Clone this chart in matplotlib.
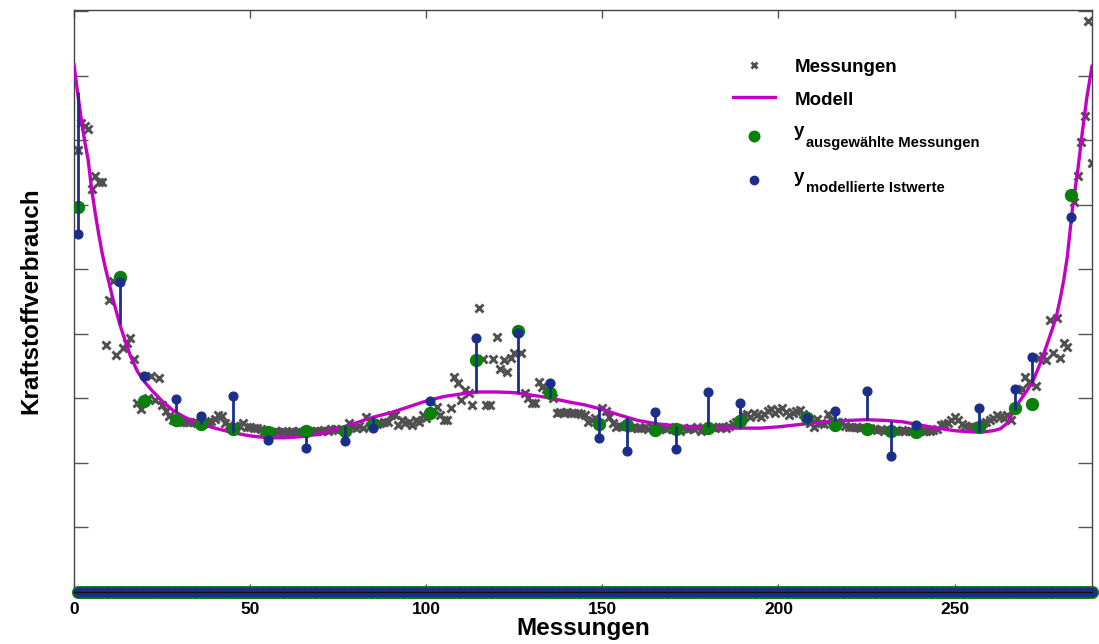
import numpy as np
import matplotlib
matplotlib.use('Agg')
import matplotlib.pyplot as plt
from matplotlib.lines import Line2D

plt.rcParams['font.family'] = ['Liberation Sans', 'DejaVu Sans']

# ---------------- data ----------------
messungen = [
    6.85, 7.27, 7.22, 7.17, 6.25, 6.45, 6.35, 6.35, 3.83, 4.52,
    4.82, 3.67, 4.88, 3.78, 3.86, 3.94, 3.61, 2.93, 2.84, 2.96,
    3.00, 3.35, 2.97, 3.31, 2.90, 2.80, 2.72, 2.67, 2.67, 2.64,
    2.64, 2.63, 2.64, 2.63, 2.62, 2.60, 2.62, 2.63, 2.65, 2.68,
    2.74, 2.73, 2.62, 2.59, 2.53, 2.58, 2.58, 2.62, 2.56, 2.55,
    2.54, 2.54, 2.53, 2.50, 2.48, 2.48, 2.49, 2.48, 2.49, 2.48,
    2.48, 2.49, 2.48, 2.49, 2.48, 2.50, 2.49, 2.50, 2.49, 2.50,
    2.51, 2.50, 2.52, 2.53, 2.51, 2.52, 2.50, 2.62, 2.55, 2.54,
    2.57, 2.54, 2.71, 2.58, 2.60, 2.60, 2.62, 2.64, 2.63, 2.74,
    2.74, 2.59, 2.67, 2.62, 2.64, 2.59, 2.66, 2.64, 2.74, 2.70,
    2.78, 2.80, 2.87, 2.74, 2.67, 2.67, 2.85, 3.33, 3.24, 2.98,
    3.13, 3.09, 2.90, 3.60, 4.40, 3.61, 2.90, 2.90, 3.61, 3.95,
    3.46, 3.60, 3.41, 3.63, 3.71, 4.05, 3.71, 3.08, 3.00, 2.93,
    2.93, 3.26, 3.18, 3.15, 3.09, 3.00, 2.78, 2.79, 2.78, 2.79,
    2.78, 2.77, 2.78, 2.76, 2.74, 2.64, 2.66, 2.70, 2.60, 2.85,
    2.80, 2.71, 2.62, 2.56, 2.57, 2.58, 2.59, 2.54, 2.55, 2.54,
    2.54, 2.55, 2.53, 2.55, 2.51, 2.53, 2.54, 2.52, 2.55, 2.53,
    2.53, 2.50, 2.54, 2.52, 2.54, 2.53, 2.55, 2.50, 2.52, 2.54,
    2.55, 2.54, 2.55, 2.56, 2.54, 2.57, 2.60, 2.64, 2.65, 2.74,
    2.76, 2.71, 2.78, 2.74, 2.71, 2.76, 2.80, 2.83, 2.78, 2.82,
    2.85, 2.79, 2.74, 2.77, 2.80, 2.82, 2.76, 2.70, 2.62, 2.56,
    2.68, 2.62, 2.60, 2.76, 2.66, 2.59, 2.64, 2.64, 2.58, 2.56,
    2.56, 2.55, 2.54, 2.55, 2.53, 2.54, 2.53, 2.51, 2.52, 2.50,
    2.51, 2.50, 2.50, 2.50, 2.51, 2.50, 2.50, 2.49, 2.48, 2.50,
    2.49, 2.50, 2.50, 2.51, 2.52, 2.59, 2.60, 2.62, 2.67, 2.71,
    2.66, 2.60, 2.57, 2.56, 2.58, 2.56, 2.56, 2.62, 2.64, 2.67,
    2.70, 2.74, 2.71, 2.70, 2.74, 2.67, 2.85, 3.13, 3.15, 3.33,
    3.26, 2.91, 3.20, 3.63, 3.66, 3.60, 4.22, 3.71, 4.25, 3.63,
    3.86, 3.80, 6.16, 6.05, 6.45, 6.97, 7.38, 8.85, 6.65,
]

sel_idx = [1, 13, 20, 29, 36, 45, 55, 66, 77, 85, 101, 114, 126, 135, 149,
           157, 165, 171, 180, 189, 208, 216, 225, 232, 239, 257, 267, 272, 283]
sel_green = [5.97, 4.88, 2.96, 2.67, 2.60, 2.53, 2.48, 2.50, 2.50, 2.60, 2.78,
             3.60, 4.05, 3.09, 2.60, 2.59, 2.51, 2.53, 2.54, 2.65, 2.70, 2.59,
             2.53, 2.50, 2.48, 2.56, 2.85, 2.91, 6.16]
sel_blue = [5.55, 4.81, 3.35, 2.99, 2.73, 3.04, 2.36, 2.23, 2.34, 2.54, 2.96,
            3.94, 4.02, 3.24, 2.39, 2.19, 2.79, 2.22, 3.10, 2.93, 2.70, 2.81,
            3.12, 2.11, 2.59, 2.85, 3.15, 3.64, 5.81]

model_x = [0, 1, 2, 3, 4, 5, 6, 7, 8, 9, 10, 11, 12, 13, 14, 16, 18, 20, 22,
           25, 28, 31, 35, 40, 45, 50, 55, 60, 65, 70, 75, 80, 85, 90, 95,
           100, 105, 110, 115, 120, 125, 130, 135, 140, 145, 150, 155, 160,
           165, 170, 175, 180, 185, 190, 195, 200, 205, 210, 215, 220, 225,
           230, 235, 240, 245, 250, 255, 258, 261, 263, 265, 266.5, 268, 270,
           272, 274, 276, 278, 279, 280, 281, 282, 283.5, 285, 286.2, 287.5,
           289]
model_y = [8.17, 7.75, 7.35, 7.00, 6.70, 6.25, 5.88, 5.55, 5.25, 5.00, 4.78,
           4.55, 4.35, 4.15, 3.98, 3.66, 3.42, 3.26, 3.13, 2.96, 2.82, 2.72,
           2.62, 2.54, 2.47, 2.42, 2.39, 2.39, 2.41, 2.45, 2.53, 2.62, 2.71,
           2.78, 2.87, 2.96, 3.03, 3.07, 3.10, 3.10, 3.09, 3.05, 3.01, 2.95,
           2.90, 2.83, 2.74, 2.66, 2.61, 2.58, 2.56, 2.55, 2.54, 2.54, 2.54,
           2.56, 2.59, 2.62, 2.64, 2.66, 2.67, 2.66, 2.64, 2.59, 2.54, 2.50,
           2.48, 2.48, 2.50, 2.53, 2.62, 2.78, 2.92, 3.08, 3.24, 3.50, 3.80,
           4.12, 4.30, 4.55, 4.84, 5.20, 5.97, 6.55, 7.10, 7.65, 8.15]

x_ticks = [0, 50, 100, 150, 200, 250]
y_ticks = [0, 1, 2, 3, 4, 5, 6, 7, 8, 9]
x_label = 'Messungen'
y_label = 'Kraftstoffverbrauch'
leg_mess = 'Messungen'
leg_model = 'Modell'
leg_y = 'y'
leg_sub_green = 'ausgewählte Messungen'
leg_sub_blue = 'modellierte Istwerte'

# ---------------- style ----------------
C_GRAY = '#505050'
C_MAG = '#C400C4'
C_GREEN = '#0A800A'
C_BLUE = '#1B2E8A'

W, H = 1099, 644
fig = plt.figure(figsize=(W / 100, H / 100), dpi=100)
ax = fig.add_axes([74 / W, (H - 592) / H, (1092 - 74) / W, (592 - 10) / H])

x_mess = np.arange(1, len(messungen) + 1)
zeros = np.zeros(len(x_mess))

ax.plot(x_mess, messungen, linestyle='none', marker='x', ms=5.2, mew=2.1,
        color=C_GRAY, zorder=2)
ax.plot(model_x, model_y, color=C_MAG, lw=2.4, zorder=3)
ax.plot(sel_idx, sel_green, linestyle='none', marker='o', ms=8.6,
        color=C_GREEN, mec=C_GREEN, zorder=4)
stem_base = np.interp(sel_idx, model_x, model_y)
ax.vlines(sel_idx, stem_base, sel_blue, color=C_BLUE, lw=2.0, zorder=5)
ax.plot(sel_idx, sel_blue, linestyle='none', marker='o', ms=6.3,
        color=C_BLUE, mec=C_BLUE, zorder=6)

# full-length zero rows (unselected entries)
ax.plot(x_mess, zeros, linestyle='none', marker='o', ms=8.4, color=C_GREEN,
        mec=C_GREEN, clip_on=False, zorder=4)
ax.plot(x_mess, zeros, linestyle='none', marker='o', ms=6.2, color=C_BLUE,
        mec=C_BLUE, clip_on=False, zorder=6)

ax.set_xlim(0, 289)
ax.set_ylim(0, 9.02)
ax.set_xticks(x_ticks)
ax.set_yticks(y_ticks)
ax.set_yticklabels([])
ax.tick_params(axis='both', direction='in', top=True, right=True,
               colors='#555555', labelcolor='black')
ax.tick_params(axis='x', length=6, width=1, pad=7, labelsize=12.5)
ax.tick_params(axis='y', length=10, width=1)
for lab in ax.get_xticklabels():
    lab.set_fontweight('bold')
for s in ax.spines.values():
    s.set_color('#444444')
    s.set_linewidth(1.0)
ax.spines['bottom'].set_color('#111111')
ax.spines['bottom'].set_zorder(10)

ax.set_xlabel(x_label, fontsize=17.5, fontweight='bold')
ax.xaxis.label.set_va('baseline')
ax.xaxis.set_label_coords(0.5, (592 - 635) / 582)
ax.set_ylabel(y_label, fontsize=17.5, fontweight='bold')
ax.yaxis.label.set_va('baseline')
ax.yaxis.set_label_coords((37 - 74) / 1018, 0.5)

# ---------------- legend (manual, no frame) ----------------
def fx(px):
    return px / W

def fy(py):
    return 1 - py / H

fig.add_artist(Line2D([fx(754)], [fy(65)], linestyle='none', marker='x',
                      ms=5.0, mew=2.0, color=C_GRAY, transform=fig.transFigure))
fig.add_artist(Line2D([fx(733), fx(775)], [fy(97), fy(97)], color=C_MAG,
                      lw=2.4, transform=fig.transFigure))
fig.add_artist(Line2D([fx(754)], [fy(136)], linestyle='none', marker='o',
                      ms=7.6, color=C_GREEN, transform=fig.transFigure))
fig.add_artist(Line2D([fx(754)], [fy(180)], linestyle='none', marker='o',
                      ms=6.0, color=C_BLUE, transform=fig.transFigure))

fig.text(fx(795), fy(72), leg_mess, fontsize=13.5, fontweight='bold',
         va='baseline', ha='left')
fig.text(fx(795), fy(105), leg_model, fontsize=13.5, fontweight='bold',
         va='baseline', ha='left')
fig.text(fx(794), fy(136), leg_y, fontsize=13.5, fontweight='bold',
         va='baseline', ha='left')
fig.text(fx(806), fy(147), leg_sub_green, fontsize=10.6, fontweight='bold',
         va='baseline', ha='left')
fig.text(fx(794), fy(182), leg_y, fontsize=13.5, fontweight='bold',
         va='baseline', ha='left')
fig.text(fx(806), fy(192), leg_sub_blue, fontsize=10.6, fontweight='bold',
         va='baseline', ha='left')

fig.savefig('out.png', dpi=100)
